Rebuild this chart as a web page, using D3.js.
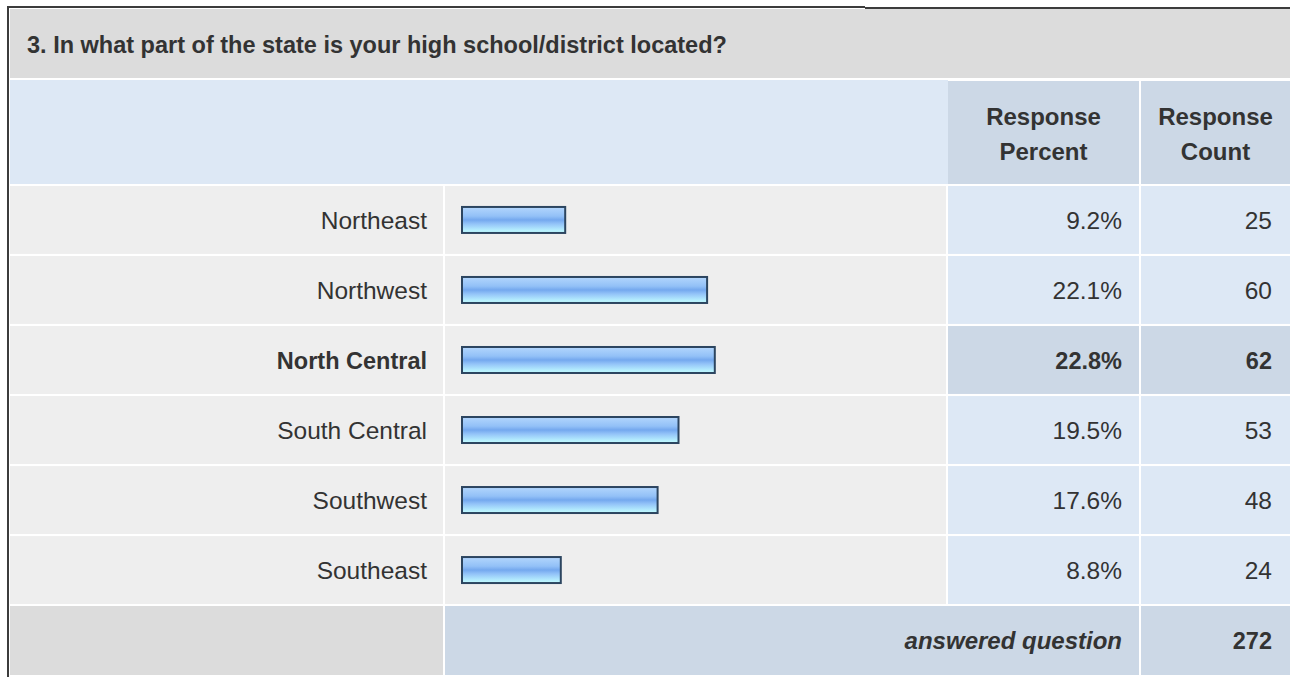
<!DOCTYPE html>
<html>
<head>
<meta charset="utf-8">
<script src="https://cdn.jsdelivr.net/npm/d3@7"></script>
<style>
  html, body { margin: 0; padding: 0; background: #fff; }
  svg { display: block; font-family: "Liberation Sans", Arial, sans-serif; }
</style>
</head>
<body>
<svg id="chart"></svg>
<script>
/* ── survey question table · region breakdown ─────────────────── */

const TITLE      = "3. In what part of the state is your high school/district located?";
const categories = ["Northeast", "Northwest", "North Central", "South Central", "Southwest", "Southeast"];
const percents   = [9.2, 22.1, 22.8, 19.5, 17.6, 8.8];
const counts     = [25, 60, 62, 53, 48, 24];
const headers    = [["Response", "Percent"], ["Response", "Count"]];
const answeredLabel = "answered question";
const answered   = 272;
const highlighted = "North Central";

const W = 1290, H = 677;

// column edges
const COL = {
  label:   [10, 443],
  bar:     [445, 946],
  percent: [948, 1139],
  count:   [1141, 1290],
};

const C = {
  border:   "#3c3c3c",
  title:    "#dcdcdc",
  header:   "#dde8f5",
  headerDk: "#ccd8e6",
  row:      "#eeeeee",
  cell:     "#dde8f5",
  text:     "#333333",
  barEdge:  "#2c4560",
};

const FS_REG  = 24.5;   // regular text
const FS_BOLD = 23.5;   // bold text

const svg = d3.select("#chart").attr("width", W).attr("height", H);

// bar gradient
const grad = svg.append("defs").append("linearGradient")
  .attr("id", "barFill")
  .attr("x1", 0).attr("y1", 0).attr("x2", 0).attr("y2", 1);
[
  [0,    "#b3d6fd"],
  [0.35, "#93c1f7"],
  [0.5,  "#74a8ee"],
  [0.65, "#93c3f8"],
  [0.85, "#afe6fd"],
  [1,    "#c4ffff"],
].forEach(([o, c]) => grad.append("stop").attr("offset", o).attr("stop-color", c));

// ── scales ──────────────────────────────────────────────────────
const y = d3.scaleBand()
  .domain(categories)
  .range([186, 604])
  .paddingInner(0.03);

const x = d3.scaleLinear()
  .domain([0, 100])
  .range([0, 1100]);

// ── frame + title ───────────────────────────────────────────────
svg.append("rect")
  .attr("x", 10).attr("y", 9).attr("width", W - 10).attr("height", 69)
  .attr("fill", C.title);

svg.append("line")
  .attr("x1", 7).attr("x2", 865).attr("y1", 7).attr("y2", 7)
  .attr("stroke", C.border).attr("stroke-width", 2);
svg.append("line")
  .attr("x1", 865).attr("x2", W).attr("y1", 8).attr("y2", 8)
  .attr("stroke", C.border).attr("stroke-width", 2);
svg.append("line")
  .attr("x1", 8).attr("x2", 8).attr("y1", 6).attr("y2", H)
  .attr("stroke", C.border).attr("stroke-width", 2);

svg.append("text")
  .attr("x", 27).attr("y", 53)
  .attr("font-size", FS_BOLD).attr("font-weight", "bold")
  .attr("fill", C.text)
  .text(TITLE);

// ── header row ──────────────────────────────────────────────────
svg.append("rect")
  .attr("x", 10).attr("y", 80).attr("width", COL.percent[0] - 10).attr("height", 104)
  .attr("fill", C.header);

const headCols = [COL.percent, COL.count];
const head = svg.append("g").selectAll("g")
  .data(headers)
  .join("g");

head.append("rect")
  .attr("x", (d, i) => headCols[i][0])
  .attr("y", 81)
  .attr("width", (d, i) => headCols[i][1] - headCols[i][0])
  .attr("height", 103)
  .attr("fill", C.headerDk);

head.append("text")
  .attr("text-anchor", "middle")
  .attr("font-size", 24).attr("font-weight", "bold")
  .attr("fill", C.text)
  .selectAll("tspan")
  .data((d, i) => d.map(t => ({ t, i })))
  .join("tspan")
    .attr("x", d => (headCols[d.i][0] + headCols[d.i][1]) / 2)
    .attr("y", (d, j) => 125 + j * 35)
    .text(d => d.t);

// ── data rows ───────────────────────────────────────────────────
const rows = categories.map((c, i) => ({ cat: c, pct: percents[i], n: counts[i] }));

const row = svg.append("g").selectAll("g")
  .data(rows)
  .join("g")
    .attr("transform", d => `translate(0,${y(d.cat)})`);

const bh = y.bandwidth();
const isHi = d => d.cat === highlighted;

row.append("rect")
  .attr("x", COL.label[0]).attr("width", COL.label[1] - COL.label[0])
  .attr("height", bh).attr("fill", C.row);
row.append("rect")
  .attr("x", COL.bar[0]).attr("width", COL.bar[1] - COL.bar[0])
  .attr("height", bh).attr("fill", C.row);
row.append("rect")
  .attr("x", COL.percent[0]).attr("width", COL.percent[1] - COL.percent[0])
  .attr("height", bh).attr("fill", d => isHi(d) ? C.headerDk : C.cell);
row.append("rect")
  .attr("x", COL.count[0]).attr("width", COL.count[1] - COL.count[0])
  .attr("height", bh).attr("fill", d => isHi(d) ? C.headerDk : C.cell);

// bars
row.append("rect")
  .attr("x", 462)
  .attr("y", bh / 2 - 13)
  .attr("width", d => x(d.pct) + 2)
  .attr("height", 26)
  .attr("fill", "url(#barFill)")
  .attr("stroke", C.barEdge)
  .attr("stroke-width", 2);

const txtY = bh / 2 + 9;

function cellText(sel, xPos, fmt) {
  sel.append("text")
    .attr("x", xPos).attr("y", txtY)
    .attr("text-anchor", "end")
    .attr("font-size", d => isHi(d) ? FS_BOLD : FS_REG)
    .attr("font-weight", d => isHi(d) ? "bold" : "normal")
    .attr("fill", C.text)
    .text(fmt);
}

cellText(row, 427,  d => d.cat);
cellText(row, 1122, d => d3.format(".1f")(d.pct) + "%");
cellText(row, 1272, d => d.n);

// ── footer ──────────────────────────────────────────────────────
const fy = 606, fh = 69;
svg.append("rect")
  .attr("x", COL.label[0]).attr("y", fy)
  .attr("width", COL.label[1] - COL.label[0]).attr("height", fh)
  .attr("fill", C.title);
svg.append("rect")
  .attr("x", COL.bar[0]).attr("y", fy)
  .attr("width", COL.percent[1] - COL.bar[0]).attr("height", fh)
  .attr("fill", C.headerDk);
svg.append("rect")
  .attr("x", COL.count[0]).attr("y", fy)
  .attr("width", COL.count[1] - COL.count[0]).attr("height", fh)
  .attr("fill", C.headerDk);

svg.append("text")
  .attr("x", 1122).attr("y", fy + 43)
  .attr("text-anchor", "end")
  .attr("font-size", 24).attr("font-weight", "bold").attr("font-style", "italic")
  .attr("fill", C.text)
  .text(answeredLabel);

svg.append("text")
  .attr("x", 1272).attr("y", fy + 43)
  .attr("text-anchor", "end")
  .attr("font-size", FS_BOLD).attr("font-weight", "bold")
  .attr("fill", C.text)
  .text(answered);
</script>
</body>
</html>
